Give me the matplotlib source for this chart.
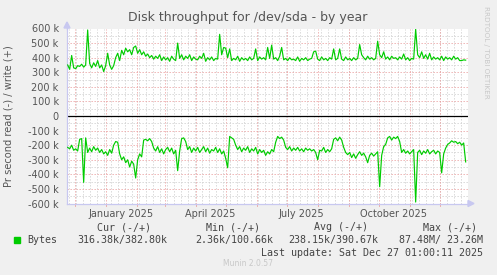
import matplotlib
matplotlib.use("Agg")
import matplotlib.pyplot as plt
import pandas as pd
import numpy as np

# ---------------- data (values in k, every 2 days) ----------------
start_date = "2024-11-24"
write_k = [
    350, 320, 415, 330, 325, 345, 340, 355, 335, 350,
    590, 360, 330, 365, 340, 380, 330, 350, 305, 345,
    430, 350, 320, 345, 400, 430, 380, 450, 420, 465,
    440, 455, 420, 470, 480, 430, 455, 420, 440, 410,
    425, 400, 415, 390, 410, 395, 420, 380, 405, 385,
    400, 375, 410, 390, 380, 500, 395, 420, 385, 410,
    395, 420, 380, 405, 390, 385, 410, 395, 430, 375,
    400, 385, 405, 380, 395, 390, 560, 420, 470, 465,
    400, 460, 380, 395, 385, 410, 375, 400, 385, 395,
    380, 405, 385, 395, 460, 380, 405, 390, 400, 385,
    470, 395, 486, 390, 400, 380, 410, 470, 385, 395,
    380, 400, 385, 390, 380, 405, 375, 395, 385, 400,
    380, 390, 395, 440, 445, 390, 380, 405, 385, 395,
    380, 400, 390, 460, 385, 395, 460, 390, 380, 405,
    385, 395, 380, 400, 385, 395, 490, 420, 400, 385,
    410, 390, 400, 385, 395, 513, 420, 400, 440, 390,
    405, 385, 410, 395, 400, 385, 405, 390, 425, 385,
    400, 380, 395, 390, 595, 420, 400, 440, 395, 420,
    390, 430, 385, 405, 390, 400, 385, 410, 380, 405,
    390, 400, 385, 410, 390, 400, 380, 380, 385, 383,
]
read_k = [
    -215, -225, -200, -235, -225, -240, -160, -155, -455, -150,
    -250, -220, -245, -210, -235, -220, -250, -230, -260, -245,
    -270, -230, -255, -200, -175, -180, -260, -300, -280, -320,
    -300, -350, -310, -330, -425, -300, -260, -280, -165, -160,
    -170, -155, -175, -220, -240, -210, -250, -225, -260, -230,
    -215, -245, -220, -260, -235, -375, -240, -155, -150, -175,
    -230, -210, -250, -220, -240, -215, -250, -230, -210, -245,
    -220, -255, -230, -240, -215, -250, -225, -260, -240, -290,
    -355, -140, -150, -160, -200, -230, -210, -245, -220, -235,
    -210, -250, -225, -240, -215, -260, -230, -250, -235, -270,
    -245, -260, -230, -245, -180, -140, -155, -145, -165, -215,
    -230, -210, -240, -220, -235, -215, -240, -225, -245, -220,
    -235, -225, -240, -230, -250, -300, -235, -240, -215, -250,
    -230, -245, -225, -160, -150, -170, -145, -165, -215, -250,
    -265, -250, -285, -260, -290, -265, -245, -270, -255, -280,
    -320, -270, -255, -275, -260, -245, -485, -270, -210, -195,
    -150, -140, -165, -145, -155, -140, -175, -250, -230, -255,
    -240, -260, -245, -230, -590, -250, -235, -265, -240, -255,
    -230, -260, -245, -235, -260, -240, -250, -390, -260, -220,
    -195, -185, -170, -180, -175, -190, -180, -200, -185, -315,
]
y_ticks_k = [600, 500, 400, 300, 200, 100, 0, -100, -200, -300, -400, -500, -600]
x_labels = ["January 2025", "April 2025", "July 2025", "October 2025"]
x_label_dates = ["2025-01-16", "2025-04-16", "2025-07-16", "2025-10-16"]

legend_headers = ["Cur (-/+)", "Min (-/+)", "Avg (-/+)", "Max (-/+)"]
legend_values = ["316.38k/382.80k", "2.36k/100.66k", "238.15k/390.67k", "87.48M/ 23.26M"]

# ---------------- figure ----------------
W, H = 497, 275
fig = plt.figure(figsize=(W / 100, H / 100), dpi=100)
fig.patch.set_facecolor("#F0F0F0")

def fx(px):
    return px / W

def fy(py):
    return 1 - py / H

ax = fig.add_axes([fx(67), fy(203.5), fx(468) - fx(67), fy(28.5) - fy(203.5)])
ax.set_facecolor("white")

x_w = pd.date_range(start_date, periods=len(write_k), freq="2D")
x_r = pd.date_range(start_date, periods=len(read_k), freq="2D")

xmin = pd.Timestamp("2024-11-23 08:00")
xmax = pd.Timestamp("2025-12-29 08:00")

# grid
minor_c = "#CFCFCF"
major_c = "#EAA0A0"
gkw = dict(lw=0.6, ls=(0, (1.6, 2.0)))
for v in range(-600, 601, 50):
    if v % 100 != 0:
        ax.axhline(v * 1000, color=minor_c, zorder=1, **gkw)
weeks = pd.date_range("2024-11-25", "2025-12-29", freq="W-MON")
months = pd.date_range("2024-12-01", "2025-12-01", freq="MS")
for d in weeks:
    ax.axvline(d, color=minor_c, zorder=1, **gkw)
for v in y_ticks_k:
    ax.axhline(v * 1000, color=major_c, zorder=1.5, **gkw)
for d in months:
    ax.axvline(d, color=major_c, zorder=1.5, **gkw)
    ax.plot([d, d], [-600000, -615000], color=major_c, lw=0.6, clip_on=False, zorder=1.5)

ax.axhline(0, color="black", lw=0.9, zorder=2)

green = "#00CC00"
ax.plot(x_w, np.array(write_k) * 1000, color=green, lw=0.85, zorder=3)
ax.plot(x_r, np.array(read_k) * 1000, color=green, lw=0.85, zorder=3)

ax.set_xlim(xmin, xmax)
ax.set_ylim(-600000, 600000)

ax.set_yticks([v * 1000 for v in y_ticks_k])
ax.set_yticklabels([("%d k" % v) if v != 0 else "0" for v in y_ticks_k])
ax.set_xticks(pd.to_datetime(x_label_dates))
ax.set_xticklabels(x_labels)
ax.tick_params(axis="both", length=0, labelsize=7, labelcolor="#555555")
ax.tick_params(axis="y", pad=6)
ax.tick_params(axis="x", pad=4)

for s in ["top", "right"]:
    ax.spines[s].set_visible(False)
axis_c = "#C8C8F0"
ax.spines["left"].set_color(axis_c)
ax.spines["bottom"].set_color(axis_c)
ax.spines["left"].set_linewidth(0.9)
ax.spines["bottom"].set_linewidth(0.9)

# arrows
fig.patches.append(matplotlib.patches.Polygon(
    [[fx(64), fy(28)], [fx(70), fy(28)], [fx(67), fy(22)]],
    closed=True, transform=fig.transFigure, color=axis_c, zorder=5))
fig.patches.append(matplotlib.patches.Polygon(
    [[fx(468), fy(200.5)], [fx(468), fy(206.5)], [fx(474), fy(203.5)]],
    closed=True, transform=fig.transFigure, color=axis_c, zorder=5))
fig.lines.append(matplotlib.lines.Line2D([fx(67), fx(67)], [fy(28.5), fy(25)],
    transform=fig.transFigure, color=axis_c, lw=0.9))

# texts
fig.text(fx(248), fy(18), "Disk throughput for /dev/sda - by year", ha="center", va="center",
         fontsize=9, color="#555555", family="DejaVu Sans")
fig.text(fx(9), fy(116), "Pr second read (-) / write (+)", rotation=90, ha="center", va="center",
         fontsize=7.1, color="#555555")
fig.text(fx(486), fy(52), "RRDTOOL / TOBI OETIKER", rotation=270, ha="center", va="center",
         fontsize=5.2, color="#C8C8C8")

mono = "DejaVu Sans Mono"
fs = 7.2
lc = "#444444"
header_right = [151, 260, 368, 477]
for t, xr in zip(legend_headers, header_right):
    fig.text(fx(xr), fy(227.5), t, ha="right", va="center", family=mono, fontsize=fs, color=lc)
value_right = [167, 273, 378, 483]
for t, xr in zip(legend_values, value_right):
    fig.text(fx(xr), fy(240), t, ha="right", va="center", family=mono, fontsize=fs, color=lc)
fig.patches.append(matplotlib.patches.Rectangle((fx(14), fy(243)), fx(6), fy(237) - fy(243),
    transform=fig.transFigure, color=green))
fig.text(fx(27), fy(240), "Bytes", ha="left", va="center", family=mono, fontsize=fs, color=lc)
fig.text(fx(483), fy(252.5), "Last update: Sat Dec 27 01:00:11 2025", ha="right", va="center",
         family=mono, fontsize=fs, color=lc)
fig.text(fx(248), fy(264), "Munin 2.0.57", ha="center", va="center", fontsize=5.5, color="#C8C8C8")

fig.savefig("out.png", dpi=100, facecolor=fig.get_facecolor())
